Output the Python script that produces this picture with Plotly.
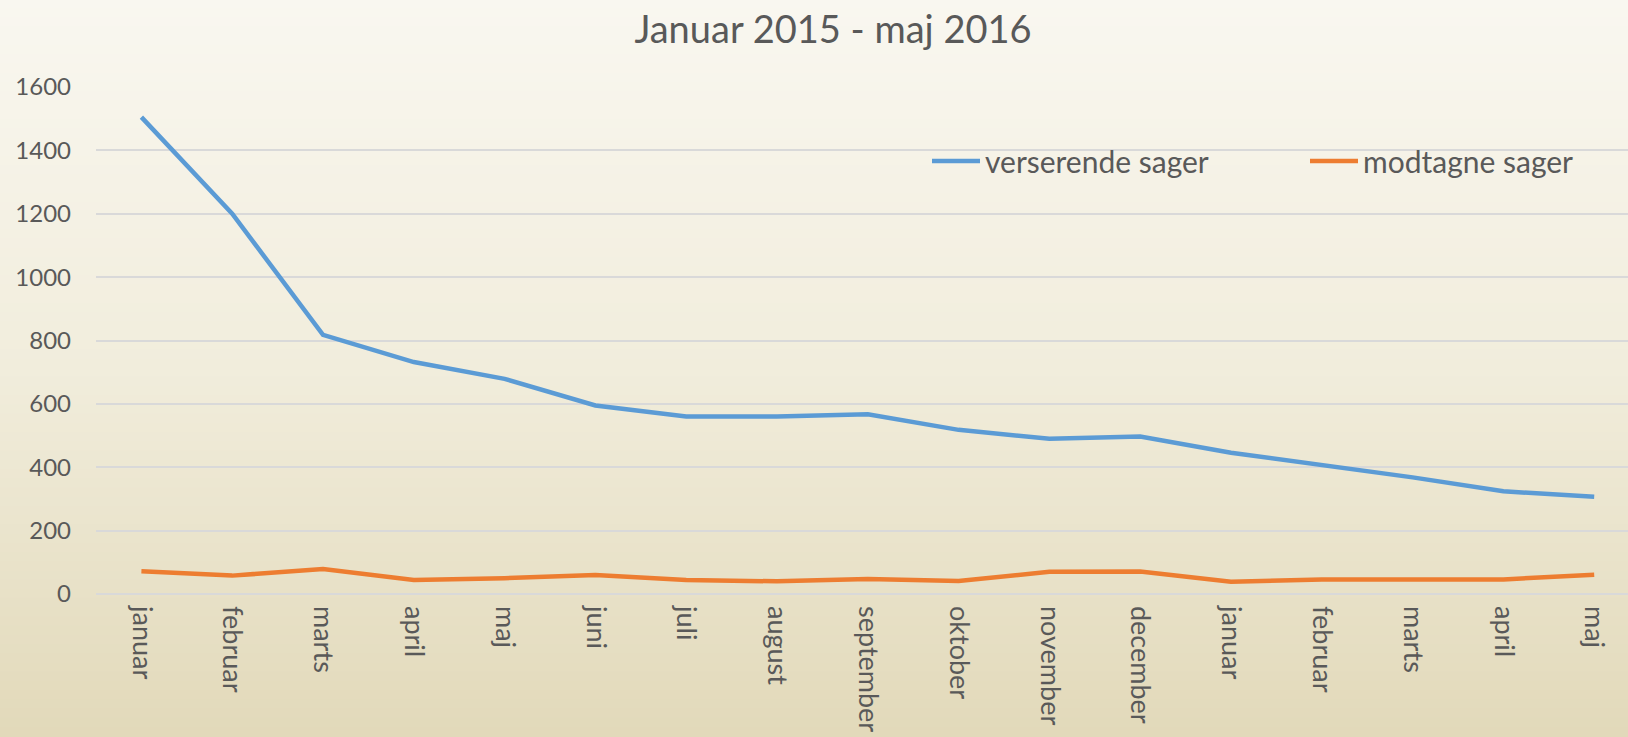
import plotly.graph_objects as go

months = ["januar", "februar", "marts", "april", "maj", "juni", "juli", "august",
          "september", "oktober", "november", "december", "januar", "februar",
          "marts", "april", "maj"]
verserende = [1505, 1200, 818, 732, 679, 595, 560, 560, 567, 518, 490, 497, 446, 408, 368, 324, 307]
modtagne = [72, 58, 79, 44, 50, 60, 44, 40, 47, 41, 70, 71, 39, 46, 46, 46, 61]
y_ticks = [0, 200, 400, 600, 800, 1000, 1200, 1400, 1600]

W, H = 1628, 737
ML, MR, MT, MB = 96, 0, 87, 143
FONT = "Lato, 'Open Sans', sans-serif"
TXT = "#595959"

x_idx = list(range(len(months)))

fig = go.Figure()
fig.add_trace(go.Scatter(x=x_idx, y=verserende, mode="lines", name="verserende sager",
                         line=dict(color="#5b9bd5", width=4.5), legend="legend"))
fig.add_trace(go.Scatter(x=x_idx, y=modtagne, mode="lines", name="modtagne sager",
                         line=dict(color="#ed7d31", width=4.5), legend="legend2"))

# vertical gradient background built from thin bands
top = (249, 247, 240)
mid = (241, 237, 220)
bot = (226, 217, 186)
n = 80
ph = H - MT - MB
pw = W - ML - MR
y_lo = -MB / ph
y_hi = 1 + MT / ph
shapes = []
for i in range(n):
    t = i / (n - 1)
    if t < 0.5:
        u = t / 0.5
        c = tuple(round(top[k] + (mid[k] - top[k]) * u) for k in range(3))
    else:
        u = (t - 0.5) / 0.5
        c = tuple(round(mid[k] + (bot[k] - mid[k]) * u) for k in range(3))
    y1 = y_hi - (y_hi - y_lo) * i / n
    y0 = y_hi - (y_hi - y_lo) * (i + 1) / n
    shapes.append(dict(type="rect", xref="paper", yref="paper", x0=-0.1, x1=1.1,
                       y0=y0 - 0.002, y1=y1 + 0.002, layer="below",
                       line=dict(width=0), fillcolor="rgb(%d,%d,%d)" % c))

x_right = -0.5 + pw / 90.8
leg_y = (H - MB - 161) / ph
leg_common = dict(orientation="h", xanchor="left", y=leg_y, yanchor="middle",
                  bgcolor="rgba(0,0,0,0)", font=dict(size=30, color=TXT, family=FONT),
                  itemwidth=48)

fig.update_layout(
    width=W, height=H,
    margin=dict(l=ML, r=MR, t=MT, b=MB, autoexpand=False),
    paper_bgcolor="rgb(240,236,218)",
    plot_bgcolor="rgba(0,0,0,0)",
    shapes=shapes,
    font=dict(family=FONT, color=TXT),
    title=dict(text="Januar 2015 - maj 2016", x=833 / W, xref="container", xanchor="center",
               y=1 - 30 / H, yref="container", yanchor="middle",
               font=dict(size=38, color=TXT, family=FONT)),
    legend=dict(x=(927 - ML) / pw, **leg_common),
    legend2=dict(x=(1305 - ML) / pw, **leg_common),
    showlegend=True,
)
fig.update_xaxes(tickmode="array", tickvals=x_idx, ticktext=months, tickangle=90,
                 range=[-0.5, x_right], showgrid=False, zeroline=False, showline=False,
                 ticks="", ticklabelstandoff=11, tickfont=dict(size=27, color=TXT))
fig.update_yaxes(range=[0, 1600], tickvals=y_ticks, showgrid=True, gridcolor="#d9d9d9",
                 gridwidth=1.5, zeroline=True, zerolinecolor="#d9d9d9", zerolinewidth=1.5,
                 showline=False, ticks="", ticklabelstandoff=24,
                 tickfont=dict(size=24, color=TXT))

fig.write_html("out.html", config={"displayModeBar": False},
               post_script="document.body.style.margin='0';document.body.style.overflow='hidden';")
